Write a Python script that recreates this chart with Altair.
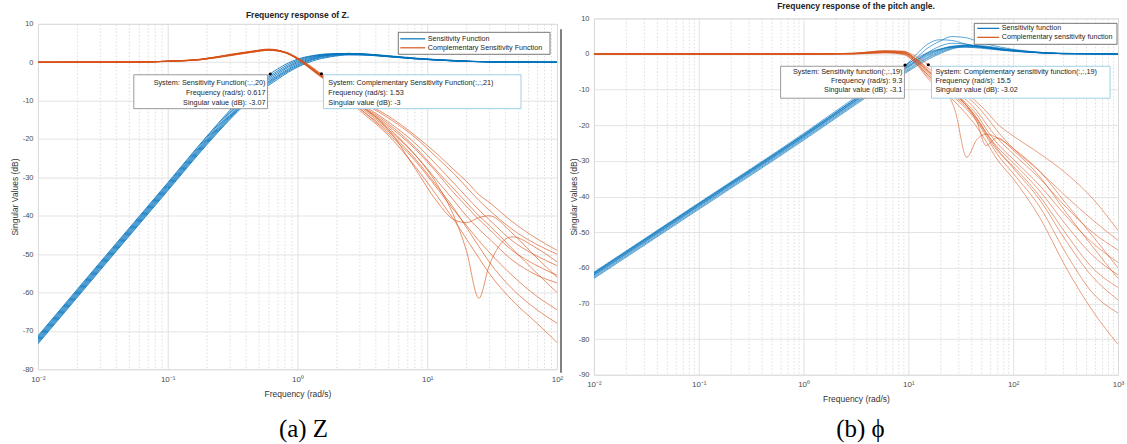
import math
import altair as alt
import pandas as pd

FONT = "Liberation Sans"
BLUE = "#0072BD"
ORANGE = "#D95319"
TXT = "#262626"
AXC = "#4d4d4d"

# ---------------- panel (a): Z ----------------
FREQ_A_S = [0.01, 0.03, 0.1, 0.2, 0.3, 0.4, 0.5, 0.6, 0.7, 0.85, 1.0, 1.3, 1.8, 2.5, 3.5, 5, 8, 15, 30, 100]
S_A = [
    [-71.3, -52.2, -31.4, -19.3, -12.6, -8.3, -5.2, -3.3, -1.8, -0.2, 0.8, 1.7, 2.2, 2.2, 1.9, 1.4, 0.9, 0.4, 0.1, 0],
    [-71.6, -52.5, -31.7, -19.6, -13.0, -8.7, -5.7, -3.8, -2.3, -0.6, 0.5, 1.6, 2.1, 2.3, 2.0, 1.5, 0.9, 0.4, 0.1, 0],
    [-71.9, -52.8, -32.0, -20.0, -13.4, -9.1, -6.1, -4.2, -2.7, -1.0, 0.2, 1.4, 2.1, 2.3, 2.1, 1.6, 1.0, 0.4, 0.1, 0],
    [-72.2, -53.1, -32.3, -20.3, -13.8, -9.5, -6.5, -4.6, -3.1, -1.3, -0.1, 1.2, 2.0, 2.2, 2.0, 1.6, 1.0, 0.5, 0.1, 0],
    [-72.5, -53.4, -32.6, -20.6, -14.1, -9.8, -6.9, -5.0, -3.5, -1.7, -0.4, 1.0, 1.9, 2.2, 2.1, 1.7, 1.1, 0.5, 0.1, 0],
    [-72.8, -53.7, -32.9, -20.9, -14.4, -10.1, -7.2, -5.3, -3.8, -2.0, -0.7, 0.8, 1.8, 2.1, 2.0, 1.6, 1.0, 0.5, 0.1, 0],
    [-73.1, -54.0, -33.2, -21.2, -14.7, -10.4, -7.5, -5.6, -4.1, -2.3, -1.0, 0.6, 1.6, 2.0, 1.9, 1.5, 1.0, 0.4, 0.1, 0],
    [-73.4, -54.3, -33.5, -21.5, -15.0, -10.8, -7.9, -6.0, -4.5, -2.6, -1.3, 0.3, 1.4, 1.9, 1.8, 1.5, 0.9, 0.4, 0.1, 0],
]
FREQ_A_T = [0.01, 0.06, 0.1, 0.18, 0.3, 0.45, 0.6, 0.8, 1.0, 1.2, 1.5, 2, 3, 5, 8, 12, 16, 20, 25, 30, 45, 70, 100]
T_A = [
    [0, 0.05, 0.25, 0.7, 1.8, 2.7, 3.2, 2.7, 1.2, -0.5, -2.85, -5.8, -10.0, -14.5, -19.5, -25, -29, -32.5, -36, -38.5, -43.5, -47.5, -50],
    [0, 0.05, 0.25, 0.75, 1.9, 2.8, 3.3, 2.6, 1.0, -0.8, -3.2, -6.2, -10.5, -15.5, -21, -27, -31.5, -35, -38.5, -41, -46.5, -50.5, -53],
    [0, 0.05, 0.3, 0.8, 2.0, 2.9, 3.4, 2.6, 0.9, -1.0, -3.5, -6.5, -11, -16.5, -22.5, -29, -34, -37.5, -41, -43.5, -49, -53, -55.5],
    [0, 0.05, 0.2, 0.65, 1.7, 2.6, 3.1, 2.5, 0.9, -1.0, -3.4, -6.8, -11.5, -17.5, -24, -31, -36, -40, -43.5, -46, -51.5, -55.5, -57.5],
    [0, 0.05, 0.25, 0.7, 1.85, 2.75, 3.25, 2.5, 0.8, -1.2, -3.7, -6.5, -11, -17, -24, -32, -40, -49, -61.5, -53, -45.5, -48.5, -52],
    [0, 0.05, 0.25, 0.75, 1.9, 2.8, 3.3, 2.6, 1.0, -0.8, -3.2, -6.7, -11.2, -17.5, -27.5, -36.5, -41, -41.8, -40.5, -40, -44.5, -51, -56],
    [0, 0.05, 0.3, 0.8, 2.0, 2.9, 3.4, 2.6, 0.9, -1.0, -3.5, -7.2, -12.5, -19, -27, -35, -41, -46, -51, -55, -62, -68, -73],
    [0, 0.05, 0.2, 0.65, 1.7, 2.6, 3.1, 2.5, 0.9, -1.0, -3.4, -7, -12, -18.5, -25.5, -33, -38.5, -42.5, -46.5, -49.5, -55.5, -61, -64.5],
    [0, 0.05, 0.25, 0.7, 1.8, 2.7, 3.2, 2.7, 1.1, -0.6, -3.0, -6.3, -10.8, -16, -22, -28.5, -33, -36.5, -40, -42.5, -48.5, -55, -60],
    [0, 0.05, 0.25, 0.7, 1.85, 2.75, 3.25, 2.5, 0.8, -1.2, -3.7, -5.8, -9.8, -14, -19, -24, -28, -31, -34.5, -36.5, -41.5, -46, -49],
    [0, 0.05, 0.25, 0.75, 1.9, 2.8, 3.3, 2.6, 1.0, -0.8, -3.2, -7, -12, -18, -25, -32.5, -38, -43, -48, -52, -59, -64.5, -68],
]

# ---------------- panel (b): phi ----------------
FREQ_B_S = [0.01, 0.1, 1, 3, 5, 7, 9.3, 12, 15, 20, 26, 35, 50, 80, 150, 300, 1000]
S_B = [
    [-61.2, -41.8, -22.3, -12.5, -8.0, -5.2, -3.1, -1.2, 0.3, 1.4, 1.9, 1.9, 1.6, 1.0, 0.4, 0.1, 0],
    [-61.5, -42.1, -22.7, -13.0, -8.6, -5.8, -3.7, -1.6, 0.0, 1.3, 2.0, 2.1, 1.8, 1.1, 0.5, 0.1, 0],
    [-61.8, -42.4, -23.0, -13.4, -9.0, -6.2, -4.1, -2.0, -0.3, 1.2, 2.2, 2.4, 2.0, 1.2, 0.5, 0.1, 0],
    [-62.1, -42.7, -23.3, -13.7, -9.3, -6.5, -4.4, -2.3, -0.6, 1.0, 2.0, 2.5, 2.2, 1.3, 0.5, 0.1, 0],
    [-62.4, -43.0, -23.6, -14.0, -9.6, -6.8, -4.8, -2.7, -1.0, 0.7, 1.8, 2.3, 2.3, 1.5, 0.6, 0.2, 0],
    [-62.7, -43.3, -23.9, -14.3, -9.9, -7.2, -5.1, -3.0, -1.3, 0.4, 1.6, 2.2, 2.1, 1.4, 0.6, 0.2, 0],
    [-63.0, -43.6, -24.2, -14.6, -10.2, -7.5, -5.4, -3.4, -1.7, 0.1, 1.4, 2.0, 1.9, 1.3, 0.5, 0.1, 0],
    [-61.6, -42.2, -22.8, -13.1, -8.5, -5.6, -3.4, -1.0, 1.5, 3.6, 4.9, 4.6, 3.2, 1.8, 0.7, 0.1, 0],
    [-61.4, -42.0, -22.6, -12.9, -8.3, -5.4, -3.3, 0.0, 2.6, 4.0, 3.8, 2.8, 1.9, 1.1, 0.5, 0.1, 0],
    [-62.0, -42.6, -23.2, -13.5, -9.0, -6.1, -4.0, -1.8, 0.2, 2.2, 3.0, 2.8, 2.0, 1.2, 0.5, 0.1, 0],
]
FREQ_B_T = [0.01, 1, 3, 6, 9, 12, 15.5, 20, 28, 36, 45, 55, 70, 100, 180, 320, 570, 1000]
T_B = [
    [0, 0, 0.2, 0.8, 0.6, -0.8, -3.02, -5.5, -8.5, -11, -13.5, -16, -19.5, -23, -28, -33.5, -40.5, -49.5],
    [0, 0, 0.1, 0.6, 0.3, -1.5, -4.0, -6.5, -9.5, -12, -14.5, -17.5, -21.5, -26.5, -33, -40, -46.5, -52.3],
    [0, 0, 0.2, 0.9, 0.8, -1.8, -5.0, -7.5, -10.5, -13, -16, -19.5, -23.5, -28, -35, -43, -50, -55],
    [0, 0, 0.1, 0.5, 0.2, -2.2, -5.5, -8, -11, -14, -17, -21, -25, -29.5, -37, -45.5, -53, -58.5],
    [0, 0, 0.2, 0.7, 0.5, -2.5, -6, -8.5, -11.5, -14.5, -18, -22, -26, -30.5, -38.5, -48, -56.5, -62],
    [0, 0, 0, 0.4, -0.2, -2.8, -6.5, -9, -12, -15, -18.5, -22.5, -27, -31.5, -40, -50.5, -60, -65.5],
    [0, 0, 0.1, 0.6, 0.4, -2, -5, -8, -11.5, -14.5, -18, -22, -26.5, -32, -41, -52.5, -62.5, -69],
    [0, 0, 0.1, 0.5, 0.1, -2.6, -6, -9, -12.5, -15.5, -19, -23, -28, -33.5, -43, -56, -67, -72.7],
    [0, 0, 0, 0.3, 0, -3, -7, -10, -13.5, -17, -20.5, -24.5, -29.5, -35, -46, -60, -72, -81.5],
    [0, 0, 0.2, 0.9, 0.7, -1.5, -4.5, -8, -16, -29, -24, -22.5, -23.5, -26.5, -33, -42, -51, -60],
    [0, 0, 0.1, 0.7, 0.4, -1.7, -4.8, -7.5, -11, -14.5, -19, -25.7, -23.5, -27, -34.5, -44.5, -54, -63],
]

# axis tick labels (decades only)
DECADES_A = [0.01, 0.1, 1, 10, 100]
LABELS_A = ["10\u207b\u00b2", "10\u207b\u00b9", "10\u2070", "10\u00b9", "10\u00b2"]
DECADES_B = [0.01, 0.1, 1, 10, 100, 1000]
LABELS_B = ["10\u207b\u00b2", "10\u207b\u00b9", "10\u2070", "10\u00b9", "10\u00b2", "10\u00b3"]
YTICKS_A = list(range(-80, 11, 10))
YTICKS_B = list(range(-90, 11, 10))

# data tips: marker value, box extent (freq, dB), text anchor and lines
TIPS_A = [
    dict(f=0.617, db=-3.07, x1=0.0548, x2=0.588, y1=-3.27, y2=-12.1, tx=0.567, align="right",
         stroke="#9a9a9a",
         lines=["System: Sensitivity Function(:,:,20)", "Frequency (rad/s): 0.617", "Singular value (dB): -3.07"],
         ly=[-5.48, -8.08, -10.55]),
    dict(f=1.53, db=-3.0, x1=1.585, x2=52.8, y1=-3.27, y2=-12.1, tx=1.73, align="left",
         stroke="#9fd0e6",
         lines=["System: Complementary Sensitivity Function(:,:,21)", "Frequency (rad/s): 1.53", "Singular value (dB): -3"],
         ly=[-5.48, -8.08, -10.55]),
]
TIPS_B = [
    dict(f=9.3, db=-3.1, x1=0.604, x2=9.16, y1=-3.45, y2=-12.4, tx=8.77, align="right",
         stroke="#9a9a9a",
         lines=["System: Sensitivity function(:,:,19)", "Frequency (rad/s): 9.3", "Singular value (dB): -3.1"],
         ly=[-5.13, -7.65, -10.03]),
    dict(f=15.5, db=-3.02, x1=16.6, x2=840, y1=-3.45, y2=-12.4, tx=18.1, align="left",
         stroke="#9fd0e6",
         lines=["System: Complementary sensitivity function(:,:,19)", "Frequency (rad/s): 15.5", "Singular value (dB): -3.02"],
         ly=[-5.13, -7.65, -10.03]),
]


def curves_frame(freqs, curves, tag):
    rows = []
    for ci, vals in enumerate(curves):
        for f, v in zip(freqs, vals):
            rows.append({"freq": f, "db": v, "curve": f"{tag}{ci}"})
    return pd.DataFrame(rows)


def minor_ticks(lo_exp, hi_exp):
    vals = []
    for e in range(lo_exp, hi_exp):
        for i in range(1, 10):
            vals.append(round(i * 10.0 ** e, 8))
    vals.append(round(10.0 ** hi_exp, 8))
    return vals


def label_expr(decades, labels):
    parts = [f"datum.value == {d} ? '{l}'" for d, l in zip(decades, labels)]
    return " : ".join(parts) + " : ''"


def panel(S_freq, S, T_freq, T, xdom, ydom, w, h, decades, labels, yticks, tips,
          names, title, title_y, caption, legend_box, ytitle_x, sw_s, sw_t, extra=None):
    lo = int(round(math.log10(xdom[0])))
    hi = int(round(math.log10(xdom[1])))
    decade_test = "indexof(" + str(decades) + ", datum.value) >= 0"
    xscale = alt.Scale(type="log", domain=xdom, nice=False)
    yscale = alt.Scale(domain=ydom, nice=False, zero=False)
    xaxis = alt.Axis(
        values=minor_ticks(lo, hi), labelExpr=label_expr(decades, labels),
        grid=True, gridColor={"condition": {"test": decade_test, "value": "#d9d9d9"}, "value": "#d4d4d4"},
        gridDash={"condition": {"test": decade_test, "value": []}, "value": [1.5, 2]},
        gridWidth=0.8, ticks=False, domain=False, labelOverlap=False, labelFlush=False,
        labelFontSize=8, labelColor=AXC, labelPadding=6, labelFont=FONT,
        title="Frequency (rad/s)", titleFontSize=8.5, titleFontWeight="normal", titleColor="#333333",
        titleFont=FONT, titleY=24, titleBaseline="middle")
    yaxis = alt.Axis(
        values=yticks, labelExpr="'' + datum.value", grid=True, gridColor="#dcdcdc", gridWidth=0.8,
        ticks=False, domain=False, labelOverlap=False, labelFlush=False, labelBound=False,
        labelFontSize=7.5, labelColor=AXC, labelPadding=5, labelFont=FONT,
        title="Singular Values (dB)", titleFontSize=8.5, titleFontWeight="normal", titleColor="#333333",
        titleFont=FONT, titleX=ytitle_x, titleY=h / 2, titleBaseline="middle", titleAlign="center")

    # every layer carries the same scale and axis definition so they merge cleanly
    xq = lambda f: alt.X(f, type="quantitative", scale=xscale, axis=xaxis)
    yq = lambda f: alt.Y(f, type="quantitative", scale=yscale, axis=yaxis)

    ds = curves_frame(S_freq, S, "S")
    dt = curves_frame(T_freq, T, "T")
    s_lines = alt.Chart(ds).mark_line(color=BLUE, strokeWidth=sw_s, opacity=0.85,
                                      interpolate="monotone", clip=True).encode(
        x=xq("freq"), y=yq("db"), detail="curve:N")
    t_lines = alt.Chart(dt).mark_line(color=ORANGE, strokeWidth=sw_t, opacity=0.8,
                                      interpolate="monotone", clip=True).encode(
        x=xq("freq"), y=yq("db"), detail="curve:N")

    boxes = pd.DataFrame([{k: t[k] for k in ("x1", "x2", "y1", "y2", "stroke")} for t in tips])
    box_layer = alt.Chart(boxes).mark_rect(fill="white", strokeWidth=1).encode(
        x=xq("x1"), x2="x2", y=yq("y1"), y2="y2",
        stroke=alt.Stroke("stroke:N", scale=None))
    text_layers = []
    for t in tips:
        tdf = pd.DataFrame({"tx": [t["tx"]] * 3, "ty": t["ly"], "txt": t["lines"]})
        text_layers.append(alt.Chart(tdf).mark_text(
            align=t["align"], baseline="middle", fontSize=7.3, font=FONT, color=TXT).encode(
            x=xq("tx"), y=yq("ty"), text="txt:N"))
    marks = pd.DataFrame({"f": [t["f"] for t in tips], "db": [t["db"] for t in tips]})
    marker_layer = alt.Chart(marks).mark_point(filled=True, color="black", size=10, opacity=1).encode(
        x=xq("f"), y=yq("db"))

    one = pd.DataFrame({"k": [0]})
    # legend box
    lx0, lx1, ly0, ly1, sx0, sx1, r1, r2 = legend_box
    leg = [
        alt.Chart(one).mark_rect(fill="white", stroke="#555555", strokeWidth=0.8).encode(
            x=alt.value(lx0), x2=alt.value(lx1), y=alt.value(ly0), y2=alt.value(ly1)),
        alt.Chart(one).mark_rule(color=BLUE, strokeWidth=1.2).encode(
            x=alt.value(sx0), x2=alt.value(sx1), y=alt.value(r1)),
        alt.Chart(one).mark_rule(color=ORANGE, strokeWidth=1.2).encode(
            x=alt.value(sx0), x2=alt.value(sx1), y=alt.value(r2)),
        alt.Chart(one).mark_text(align="left", baseline="middle", fontSize=7.2, font=FONT, color=TXT).encode(
            x=alt.value(sx1 + 2.5), y=alt.value(r1), text=alt.value(names[0])),
        alt.Chart(one).mark_text(align="left", baseline="middle", fontSize=7.2, font=FONT, color=TXT).encode(
            x=alt.value(sx1 + 2.5), y=alt.value(r2), text=alt.value(names[1])),
    ]
    deco = [
        alt.Chart(one).mark_text(fontSize=8.5, fontWeight="bold", font=FONT, color="#222222",
                                 baseline="middle").encode(
            x=alt.value(w / 2), y=alt.value(title_y), text=alt.value(title)),
        alt.Chart(one).mark_text(fontSize=25, font="Liberation Serif", color="black",
                                 baseline="middle").encode(
            x=alt.value(caption[1]), y=alt.value(caption[2]), text=alt.value(caption[0])),
    ]
    if extra:
        deco += extra
    layers = [s_lines, t_lines, box_layer] + text_layers + [marker_layer] + leg + deco
    return alt.layer(*layers).properties(width=w, height=h)


def anchor(x, y):
    return alt.Chart(pd.DataFrame({"k": [0]})).mark_rule(color="white", strokeWidth=0.5, opacity=0).encode(
        x=alt.value(x), y=alt.value(y), y2=alt.value(y + 0.5))


WA, HA = 520, 346
WB, HB = 525, 357

pa = panel(FREQ_A_S, S_A, FREQ_A_T, T_A, [0.01, 100], [-80, 10], WA, HA,
           DECADES_A, LABELS_A, YTICKS_A, TIPS_A,
           ["Sensitivity Function", "Complementary Sensitivity Function"],
           "Frequency response of Z.", -9, ("(a) Z", 266, 405.5),
           (361, 513, 8.5, 30.5, 363, 388, 15, 24), -23, 1.0, 0.8,
           extra=[anchor(-37, 100)])

pb = panel(FREQ_B_S, S_B, FREQ_B_T, T_B, [0.01, 1000], [-90, 10], WB, HB,
           DECADES_B, LABELS_B, YTICKS_B, TIPS_B,
           ["Sensitivity function", "Complementary sensitivity function"],
           "Frequency response of the pitch angle.", -12.5, ("(b) \u03d5", 267, 411),
           (381, 524, 5, 26, 384, 406, 10, 19), -20, 0.75, 0.7,
           extra=[
               alt.Chart(pd.DataFrame({"k": [0]})).mark_rule(color="#555555", strokeWidth=1.5).encode(
                   x=alt.value(-33), y=alt.value(11), y2=alt.value(355)),
               anchor(533, 100), anchor(200, -17), anchor(200, 426.5),
           ])

chart = alt.hconcat(pa, pb, spacing=37, bounds="flush", center=True).properties(
    padding=0, autosize=alt.AutoSizeParams(type="pad"), background="white"
).configure_view(stroke="#8c8c8c", strokeWidth=1).configure(font=FONT)

chart.save("out.html", embed_options={"renderer": "svg", "actions": False})
